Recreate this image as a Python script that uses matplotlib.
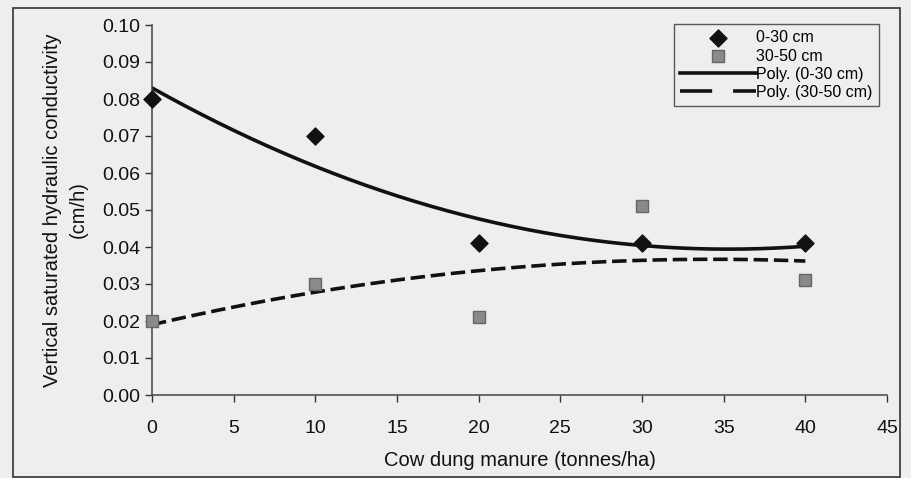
import numpy as np
import matplotlib
matplotlib.use("Agg")
from matplotlib import pyplot as plt
from matplotlib.lines import Line2D

# cow dung manure rates (tonnes/ha)
manure = [0, 10, 20, 30, 40]
# vertical saturated hydraulic conductivity (cm/h)
k_0_30 = [0.080, 0.070, 0.041, 0.041, 0.041]
k_30_50 = [0.020, 0.030, 0.021, 0.051, 0.031]

x_ticks = [0, 5, 10, 15, 20, 25, 30, 35, 40, 45]
y_ticks = [0.00, 0.01, 0.02, 0.03, 0.04, 0.05, 0.06, 0.07, 0.08, 0.09, 0.10]
labels = ['0-30 cm', '30-50 cm', 'Poly. (0-30 cm)', 'Poly. (30-50 cm)']

plt.rcParams['font.family'] = ['Liberation Sans', 'DejaVu Sans']
bg = '#eeeeee'

fig = plt.figure(figsize=(9.11, 4.78), dpi=100, facecolor=bg)
ax = fig.add_axes([152 / 911, 1 - 395 / 478, (887 - 152) / 911, (395 - 25) / 478])
ax.set_facecolor(bg)

# outer chart border
fig.patches.append(plt.Rectangle((13 / 911, 1 - 477 / 478), (900 - 13) / 911, (477 - 8) / 478,
                                 transform=fig.transFigure, fill=False, ec='#333333', lw=1.2))

# 2nd order polynomial trendlines
xs = np.linspace(0, 40, 200)
p1 = np.polyfit(manure, k_0_30, 2)
p2 = np.polyfit(manure, k_30_50, 2)

h1 = ax.scatter(manure, k_0_30, marker='D', s=75, color='#111111', zorder=3, clip_on=False)
h2 = ax.scatter(manure, k_30_50, marker='s', s=70, color='#8a8a8a', edgecolor='#666666',
                zorder=3, clip_on=False)
l1, = ax.plot(xs, np.polyval(p1, xs), color='#111111', lw=2.6)
ax.plot(xs, np.polyval(p2, xs), color='#111111', lw=2.6, dashes=(4, 1.6))
# long dash pattern for the legend key
l2 = Line2D([], [], color='#111111', lw=2.6, dashes=(8.9, 5.8))

ax.set_xlim(0, 45)
ax.set_ylim(0, 0.10)
ax.set_xticks(x_ticks)
ax.set_yticks(y_ticks)
ax.set_yticklabels(['%.2f' % v for v in y_ticks])
ax.tick_params(labelsize=14, length=5, width=1, color='#333333', labelcolor='#111111')
ax.tick_params(axis='x', pad=13)
for s in ['top', 'right']:
    ax.spines[s].set_visible(False)
for s in ['left', 'bottom']:
    ax.spines[s].set_color('#444444')
    ax.spines[s].set_linewidth(1.1)

ax.set_xlabel('Cow dung manure (tonnes/ha)', fontsize=14.5, labelpad=10, color='#111111')
ax.set_ylabel('Vertical saturated hydraulic conductivity\n(cm/h)', fontsize=14.5,
              linespacing=1.45, labelpad=10, color='#111111')

leg = ax.legend([h1, h2, l1, l2], labels,
                loc='upper right', bbox_to_anchor=(879 / 911, 1 - 24 / 478),
                bbox_transform=fig.transFigure, fontsize=11.5, frameon=True, fancybox=False,
                edgecolor='#333333', facecolor=bg, handlelength=4.75, handletextpad=0.0,
                labelspacing=0.2, borderpad=0.4, borderaxespad=0, scatterpoints=1)
leg.get_frame().set_linewidth(1.0)

fig.savefig('out.png', dpi=100, facecolor=bg)
